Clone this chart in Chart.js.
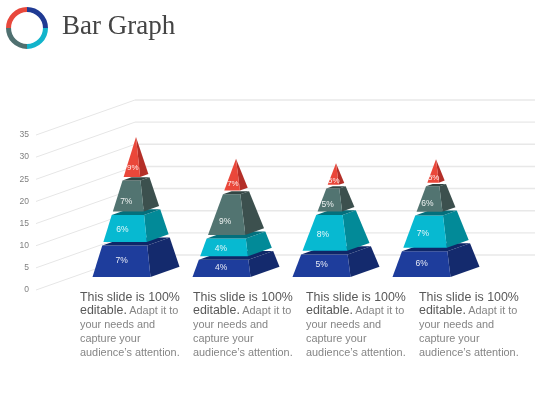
<!DOCTYPE html>
<html>
<head>
<meta charset="utf-8">
<script src="https://cdn.jsdelivr.net/npm/chart.js@4/dist/chart.umd.js"></script>
<style>
html,body{margin:0;padding:0;background:#fff;width:560px;height:420px;overflow:hidden}
#wrap{position:relative;width:560px;height:420px}
#main{position:absolute;left:0;top:0}
#logo{position:absolute;left:6px;top:7px}
#title{position:absolute;left:62px;top:10px;font:27px "Liberation Serif",serif;color:#444;white-space:nowrap}
.cap{position:absolute;top:290.5px;width:116px;font:10.9px/13.9px "Liberation Sans",Arial,sans-serif;color:#858585;white-space:nowrap}
.cap b{font-weight:normal;font-size:12.4px;color:#585858}
</style>
</head>
<body>
<div id="wrap">
<canvas id="main" width="560" height="420"></canvas>
<canvas id="logo" width="42" height="42"></canvas>
<div id="title">Bar Graph</div>
<div id="caps"></div>
</div>
<script>
const categories = ["Slide 1","Slide 2","Slide 3","Slide 4"];
const tierBlue = [7.5,4.3,5.5,6.2];
const tierCyan = [6.9,4.8,8.9,8.1];
const tierGray = [7.8,10.0,6.0,6.6];
const tierRed  = [9.4,7.6,5.3,5.7];
const labelsBlue = ["7%","4%","5%","6%"];
const labelsCyan = ["6%","4%","8%","7%"];
const labelsGray = ["7%","9%","5%","6%"];
const labelsRed  = ["9%","7%","5%","5%"];
const yTicks = [0,5,10,15,20,25,30,35];
const logoValues = [1,1,1,1];
const logoColors = ["#1f3a93","#12b4cb","#4f7070","#e8483c"];
const captionLead = "This slide is 100%";
const captionEdit = "editable.";
const captionLines = ["Adapt it to","your needs and","capture your","audience\u2019s attention."];
const captionLeft = [80,193,306,419];

const faces = [
  {front:"#1e3d9c",side:"#142a6d",top:"#0f2768",text:labelsBlue,lab:.5,dx:-1.5,size:8.5},
  {front:"#07b9d1",side:"#028a98",top:"#036f7c",text:labelsCyan,lab:.45,dx:-4,size:8.5},
  {front:"#527471",side:"#3c504e",top:"#324543",text:labelsGray,lab:.33,dx:-3,size:8.5},
  {front:"#ea473a",side:"#b42f28",top:"#8f2420",text:labelsRed,lab:.26,dx:0,size:8}
];
const wallDX=99, wallDY=-35, floorDX=35.5, floorDY=-13, baseDX=29, baseDY=-10.3, gap=1.8;

const lerp=(a,b,t)=>a+(b-a)*t;
function poly(c,pts,fill){c.beginPath();pts.forEach((p,i)=>i?c.lineTo(p[0],p[1]):c.moveTo(p[0],p[1]));c.closePath();c.fillStyle=fill;c.fill();}

const walls={id:"walls",beforeDatasetsDraw(ch){
  const c=ch.ctx,y=ch.scales.y,a=ch.chartArea;
  c.save();
  yTicks.forEach(v=>{
    const p=y.getPixelForValue(v);
    c.strokeStyle="#e6e6e6";c.lineWidth=1;
    c.beginPath();c.moveTo(a.left,p);c.lineTo(a.left+wallDX,p+wallDY);c.stroke();
    c.strokeStyle="#e8e8e8";c.lineWidth=1.4;
    c.beginPath();c.moveTo(a.left+wallDX,p+wallDY);c.lineTo(a.right+wallDX,p+wallDY);c.stroke();
  });
  c.restore();
}};

const pyramids={id:"pyramids",afterDatasetsDraw(ch){
  const c=ch.ctx,n=ch.data.labels.length;
  c.save();
  for(let i=0;i<n;i++){
    const first=ch.getDatasetMeta(0).data[i];
    const last=ch.getDatasetMeta(3).data[i];
    const half=first.width/2;
    const base=first.base+floorDY,cx=first.x+floorDX;
    const apexX=cx+baseDX/2,apexY=last.y+floorDY;
    const H=base-apexY;
    const corner=(t)=>{return {
      fl:[lerp(cx-half,apexX,t),lerp(base,apexY,t)],
      fr:[lerp(cx+half,apexX,t),lerp(base,apexY,t)],
      br:[lerp(cx+half+baseDX,apexX,t),lerp(base+baseDY,apexY,t)],
      bl:[lerp(cx-half+baseDX,apexX,t),lerp(base+baseDY,apexY,t)]
    };};
    faces.forEach((f,k)=>{
      const el=ch.getDatasetMeta(k).data[i];
      const t0=(first.base-el.base)/H;
      const t1=(first.base-el.y)/H;
      const b=corner(t0+(k?gap/H:0)),t=corner(k===3?1:t1-gap/H);
      poly(c,[b.fr,b.br,t.br,t.fr],f.side);
      poly(c,[b.fl,b.fr,t.fr,t.fl],f.front);
      if(k<3)poly(c,[t.fl,t.fr,t.br,t.bl],f.top);
      const m=corner(lerp(t0,t1,f.lab));
      c.fillStyle="rgba(255,255,255,.9)";
      c.font=f.size+'px "Liberation Sans",Arial,sans-serif';
      c.textAlign="center";c.textBaseline="middle";
      c.fillText(f.text[i],(m.fl[0]+m.fr[0])/2+f.dx,m.fl[1]);
    });
  }
  c.restore();
}};

new Chart(document.getElementById("main"),{
  type:"bar",
  data:{labels:categories,datasets:[tierBlue,tierCyan,tierGray,tierRed].map((d,k)=>({
    label:"Tier "+(k+1),data:d,backgroundColor:"rgba(0,0,0,0)",borderWidth:0,
    stack:"s",categoryPercentage:.58,barPercentage:1
  }))},
  plugins:[walls,pyramids],
  options:{
    responsive:false,animation:false,
    layout:{padding:{left:0,right:124,top:135,bottom:130}},
    plugins:{legend:{display:false},tooltip:{enabled:false},title:{display:false}},
    scales:{
      x:{stacked:true,display:false},
      y:{stacked:true,min:0,max:35,
        afterFit(s){s.width=36;},
        border:{display:false},
        grid:{display:false,drawTicks:false},
        afterBuildTicks(s){s.ticks=yTicks.map(v=>({value:v}));},
        ticks:{padding:7,color:"#808080",font:{family:'"Liberation Sans",Arial,sans-serif',size:8.5}}
      }
    }
  }
});

new Chart(document.getElementById("logo"),{
  type:"doughnut",
  data:{labels:logoColors,datasets:[{data:logoValues,backgroundColor:logoColors,borderWidth:0}]},
  options:{responsive:false,animation:false,cutout:"76%",layout:{padding:0},plugins:{legend:{display:false},tooltip:{enabled:false}}}
});

const caps=document.getElementById("caps");
captionLeft.forEach(x=>{
  const d=document.createElement("div");d.className="cap";d.style.left=x+"px";
  d.innerHTML="<b>"+captionLead+"</b><br><b>"+captionEdit+"</b> "+captionLines[0]+"<br>"+captionLines.slice(1).join("<br>");
  caps.appendChild(d);
});
</script>
</body>
</html>
